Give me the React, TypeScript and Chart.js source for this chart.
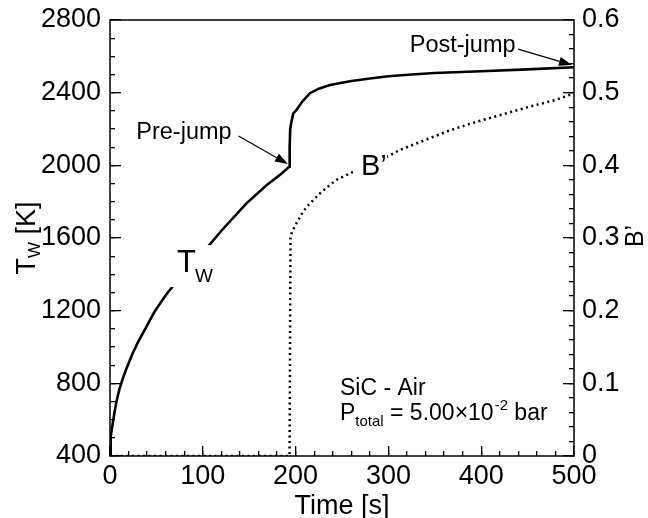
import { useEffect, useRef } from "react";
import { Chart, registerables } from "chart.js";

Chart.register(...registerables);

// Wall temperature T_w [K] vs time [s]
const timeTw = [0, 0.5, 1, 2, 3, 5, 7, 10, 14, 18, 24, 30, 38, 48, 60, 73, 85, 104, 120, 147, 169, 185, 193, 193.6, 194.2, 195.5, 197.5, 201, 207, 215.5, 225, 237, 258.6, 280, 300, 325, 350, 400, 450, 500];
const tempTw = [400, 465, 505, 550, 580, 645, 700, 765, 830, 885, 960, 1025, 1100, 1195, 1285, 1368, 1440, 1543, 1640, 1791, 1892, 1955, 1992, 2100, 2200, 2240, 2286, 2305, 2350, 2397, 2422, 2442, 2463, 2478, 2490, 2500, 2508, 2518, 2528, 2540];

// B' vs time [s]
const timeB = [0, 193.5, 194, 194.5, 196, 200, 206, 212, 219, 226, 235, 244, 258.6, 280, 302, 312, 340, 366, 390, 420, 450, 480, 500];
const valB = [0, 0, 0.15, 0.3, 0.308, 0.318, 0.332, 0.343, 0.352, 0.361, 0.371, 0.38, 0.389, 0.402, 0.414, 0.421, 0.435, 0.448, 0.458, 0.469, 0.48, 0.49, 0.499];

// Axis tick values (major, labelled)
const xTickValues = [0, 100, 200, 300, 400, 500];
const yTickValues = [400, 800, 1200, 1600, 2000, 2400, 2800];
const y1TickValues = [0, 0.1, 0.2, 0.3, 0.4, 0.5, 0.6];
const y1TickLabels = ["0", "0.1", "0.2", "0.3", "0.4", "0.5", "0.6"];
// Minor tick spacing
const xMinorStep = 20;
const yMinorStep = 100;
const y1MinorStep = 0.02;

const FONT = "'Liberation Sans', Arial, Helvetica, sans-serif";

function drawArrow(ctx: CanvasRenderingContext2D, x0: number, y0: number, x1: number, y1: number) {
  const len = 13;
  const w = 4.5;
  const ang = Math.atan2(y1 - y0, x1 - x0);
  const bx = x1 - len * Math.cos(ang);
  const by = y1 - len * Math.sin(ang);
  ctx.beginPath();
  ctx.moveTo(x0, y0);
  ctx.lineTo(bx, by);
  ctx.lineWidth = 1.2;
  ctx.strokeStyle = "#000";
  ctx.stroke();
  ctx.beginPath();
  ctx.moveTo(x1, y1);
  ctx.lineTo(bx + w * Math.sin(ang), by - w * Math.cos(ang));
  ctx.lineTo(bx - w * Math.sin(ang), by + w * Math.cos(ang));
  ctx.closePath();
  ctx.fillStyle = "#000";
  ctx.fill();
}

const decoPlugin = {
  id: "deco",
  afterDraw(chart: any) {
    const { ctx, chartArea: a, scales } = chart;
    const sx = scales.x;
    const sy = scales.y;
    const sy1 = scales.y1;
    const X = (v: number) => sx.getPixelForValue(v);
    const Y = (v: number) => sy.getPixelForValue(v);
    const Y1 = (v: number) => sy1.getPixelForValue(v);
    ctx.save();
    ctx.setLineDash([]);

    // white boxes behind curve labels
    ctx.fillStyle = "#fff";
    ctx.fillRect(X(64.7), Y(1561), X(113) - X(64.7), Y(1330) - Y(1561));
    ctx.fillRect(X(262), Y1(0.424), X(298.5) - X(262), Y1(0.38) - Y1(0.424));

    ctx.fillStyle = "#000";
    ctx.textAlign = "left";
    ctx.textBaseline = "alphabetic";
    // T_w label
    ctx.font = `31px ${FONT}`;
    ctx.fillText("T", X(72.2), Y(1413));
    ctx.font = `19px ${FONT}`;
    ctx.fillText("W", X(72.2) + 18, Y(1413) + 10);
    // B' label
    ctx.font = `29px ${FONT}`;
    ctx.fillText("B\u2019", X(270.5), Y1(0.3867));

    // Pre-jump / Post-jump
    ctx.font = `23.5px ${FONT}`;
    ctx.textAlign = "center";
    ctx.textBaseline = "middle";
    ctx.fillText("Pre-jump", X(79.7), Y(2183));
    ctx.fillText("Post-jump", X(380), Y(2662));
    drawArrow(ctx, X(138.5), Y(2161), X(191.8), Y(2007));
    drawArrow(ctx, X(439.7), Y(2640), X(497.8), Y(2552));

    // SiC - Air box text
    ctx.textAlign = "left";
    ctx.textBaseline = "alphabetic";
    const lx = X(247.8);
    ctx.font = `23px ${FONT}`;
    ctx.fillText("SiC - Air", lx, Y(736));
    const by = Y(598);
    let cx = lx;
    ctx.font = `23px ${FONT}`;
    ctx.fillText("P", cx, by);
    cx += ctx.measureText("P").width;
    ctx.font = `15px ${FONT}`;
    ctx.fillText("total", cx, by + 6);
    cx += ctx.measureText("total").width;
    ctx.font = `23px ${FONT}`;
    const mid = " = 5.00\u00d710";
    ctx.fillText(mid, cx, by);
    cx += ctx.measureText(mid).width;
    ctx.font = `15px ${FONT}`;
    ctx.fillText("-2", cx + 1, by - 10);
    cx += ctx.measureText("-2").width + 1;
    ctx.font = `23px ${FONT}`;
    ctx.fillText(" bar", cx, by);

    // frame
    ctx.lineWidth = 1.5;
    ctx.strokeStyle = "#000";
    ctx.strokeRect(a.left, a.top, a.right - a.left, a.bottom - a.top);

    // axis titles
    ctx.fillStyle = "#000";
    ctx.font = `27px ${FONT}`;
    ctx.textAlign = "center";
    ctx.textBaseline = "alphabetic";
    ctx.fillText("Time [s]", (a.left + a.right) / 2, 514);

    // left title T_W [K], rotated
    ctx.save();
    ctx.translate(34.5, (a.top + a.bottom) / 2);
    ctx.rotate(-Math.PI / 2);
    ctx.textAlign = "left";
    ctx.font = `27px ${FONT}`;
    const wT = ctx.measureText("T").width;
    const wK = ctx.measureText(" [K]").width;
    ctx.font = `17px ${FONT}`;
    const wW = ctx.measureText("W").width;
    const total = wT + wW + wK;
    let tx = -total / 2;
    ctx.font = `27px ${FONT}`;
    ctx.fillText("T", tx, 0);
    tx += wT;
    ctx.font = `17px ${FONT}`;
    ctx.fillText("W", tx, 5.5);
    tx += wW;
    ctx.font = `27px ${FONT}`;
    ctx.fillText(" [K]", tx, 0);
    ctx.restore();

    // right title B'
    ctx.save();
    ctx.translate(643, 236);
    ctx.rotate(-Math.PI / 2);
    ctx.textAlign = "center";
    ctx.font = `25px ${FONT}`;
    ctx.fillText("B\u2019", 0, 0);
    ctx.restore();

    ctx.restore();
  },
};

function stepTicks(min: number, max: number, step: number) {
  const out: { value: number }[] = [];
  const n = Math.round((max - min) / step);
  for (let i = 0; i <= n; i++) out.push({ value: min + i * step });
  return out;
}

function zeroPad(s: any) {
  s.paddingTop = 0;
  s.paddingBottom = 0;
  s.paddingLeft = 0;
  s.paddingRight = 0;
}

export default function App() {
  const ref = useRef<HTMLCanvasElement | null>(null);
  useEffect(() => {
    document.body.style.margin = "0";
    const canvas = ref.current;
    if (!canvas) return;
    const tickFont = { family: FONT, size: 27, lineHeight: 1 };
    const majorGrid = (len: number) => ({
      display: true,
      drawOnChartArea: false,
      drawTicks: true,
      tickLength: -len,
      tickColor: "#000",
      tickWidth: 1.3,
      color: "#000",
      lineWidth: 1.3,
    });
    const minorScale = (position: string, min: number, max: number, step: number, size: "w" | "h") => ({
      type: "linear",
      position,
      min,
      max,
      weight: -1,
      afterBuildTicks: (s: any) => {
        s.ticks = stepTicks(min, max, step);
      },
      afterFit: (s: any) => {
        if (size === "w") s.width = 0;
        else s.height = 0;
        zeroPad(s);
      },
      grid: majorGrid(5),
      border: { display: false },
      ticks: { display: false, autoSkip: false },
    });
    const chart = new Chart(canvas, {
      type: "line",
      data: {
        datasets: [
          {
            data: timeTw.map((t, i) => ({ x: t, y: tempTw[i] })),
            xAxisID: "x",
            yAxisID: "y",
            borderColor: "#000",
            borderWidth: 2.6,
            pointRadius: 0,
            tension: 0,
            fill: false,
          },
          {
            data: timeB.map((t, i) => ({ x: t, y: valB[i] })),
            xAxisID: "x",
            yAxisID: "y1",
            borderColor: "#000",
            borderWidth: 2.5,
            borderDash: [2, 3.5],
            pointRadius: 0,
            tension: 0,
            fill: false,
          },
        ],
      },
      options: {
        responsive: false,
        animation: false,
        layout: { padding: { top: 20, left: 0, right: 0, bottom: 0 } },
        plugins: { legend: { display: false }, tooltip: { enabled: false } },
        scales: {
          x: {
            type: "linear",
            position: "bottom",
            min: 0,
            max: 500,
            afterBuildTicks: (s: any) => {
              s.ticks = xTickValues.map((v) => ({ value: v }));
            },
            afterFit: (s: any) => {
              s.height = 62;
              zeroPad(s);
            },
            grid: majorGrid(10),
            border: { display: false },
            ticks: {
              padding: 17,
              font: tickFont,
              color: "#000",
              maxRotation: 0,
              autoSkip: false,
              callback: (v: any) => String(v),
            },
          },
          xMinor: minorScale("bottom", 0, 500, xMinorStep, "h"),
          y: {
            type: "linear",
            position: "left",
            min: 400,
            max: 2800,
            afterBuildTicks: (s: any) => {
              s.ticks = yTickValues.map((v) => ({ value: v }));
            },
            afterFit: (s: any) => {
              s.width = 110;
              zeroPad(s);
            },
            grid: majorGrid(11),
            border: { display: false },
            ticks: {
              padding: 20,
              font: tickFont,
              color: "#000",
              autoSkip: false,
              callback: (v: any) => String(v),
            },
          },
          yMinor: minorScale("left", 400, 2800, yMinorStep, "w"),
          y1: {
            type: "linear",
            position: "right",
            min: 0,
            max: 0.6,
            afterBuildTicks: (s: any) => {
              s.ticks = y1TickValues.map((v) => ({ value: v }));
            },
            afterFit: (s: any) => {
              s.width = 74;
              zeroPad(s);
            },
            grid: majorGrid(11),
            border: { display: false },
            ticks: {
              padding: 19,
              font: tickFont,
              color: "#000",
              autoSkip: false,
              callback: (_v: any, i: number) => y1TickLabels[i],
            },
          },
          y1Minor: minorScale("right", 0, 0.6, y1MinorStep, "w"),
        },
      },
      plugins: [decoPlugin],
    } as any);
    return () => chart.destroy();
  }, []);
  return (
    <div style={{ width: 648, height: 518 }}>
      <canvas ref={ref} width={648} height={518} style={{ display: "block" }} />
    </div>
  );
}
